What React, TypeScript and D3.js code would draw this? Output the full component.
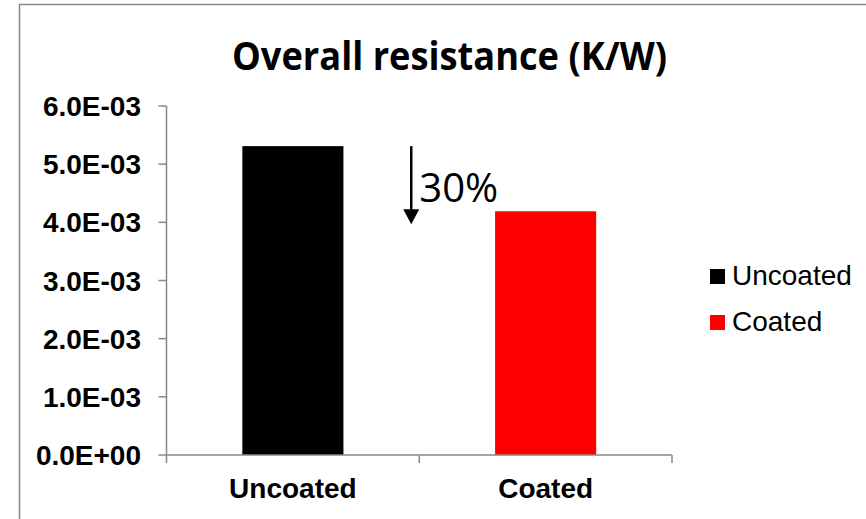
import React from "react";
import * as d3 from "d3";

const categories = ["Uncoated", "Coated"];
const resistance = [5.31e-3, 4.19e-3];
const colors = ["#000000", "#ff0000"];
const yTicks = [0, 1e-3, 2e-3, 3e-3, 4e-3, 5e-3, 6e-3];
const yTickLabels = ["0.0E+00", "1.0E-03", "2.0E-03", "3.0E-03", "4.0E-03", "5.0E-03", "6.0E-03"];
const title = "Overall resistance (K/W)";
const reductionLabel = "30%";

const W = 866;
const H = 519;
const plot = { left: 166.5, right: 672, top: 106, bottom: 455 };
const axisColor = "#888888";

export default function App() {
  const x = d3
    .scaleBand<string>()
    .domain(categories)
    .range([plot.left, plot.right])
    .paddingInner(0.6)
    .paddingOuter(0.3);
  const band = d3.scaleBand<string>().domain(categories).range([plot.left, plot.right]);
  const y = d3.scaleLinear().domain([0, 6e-3]).range([plot.bottom, plot.top]);

  const arrowX = (band("Coated") as number) - 8;
  const arrowTop = y(resistance[0]);
  const arrowTip = y(resistance[1]) + 13;

  return (
    <svg
      width={W}
      height={H}
      style={{ position: "absolute", left: 0, top: 0, display: "block", background: "#fff" }}
    >
      <rect x={19.5} y={4.5} width={W} height={H} fill="#fff" stroke={axisColor} strokeWidth={1.5} />

      <text
        x={449.5}
        y={70}
        textAnchor="middle"
        fontFamily="'Open Sans', sans-serif"
        fontWeight={700}
        fontSize={40}
        textLength={435}
        lengthAdjust="spacingAndGlyphs"
        fill="#000"
      >
        {title}
      </text>

      {/* bars */}
      {categories.map((c, i) => (
        <rect
          key={c}
          x={x(c)}
          y={y(resistance[i])}
          width={x.bandwidth()}
          height={plot.bottom - y(resistance[i])}
          fill={colors[i]}
        />
      ))}

      {/* y axis */}
      <line x1={plot.left} x2={plot.left} y1={plot.top} y2={plot.bottom} stroke={axisColor} strokeWidth={1.5} />
      {yTicks.map((t, i) => (
        <g key={t}>
          <line x1={plot.left - 8} x2={plot.left} y1={y(t)} y2={y(t)} stroke={axisColor} strokeWidth={1.5} />
          <text
            x={141}
            y={y(t)}
            dy="0.36em"
            textAnchor="end"
            fontFamily="'Liberation Sans', Arial, sans-serif"
            fontWeight={700}
            fontSize={28}
            fill="#000"
          >
            {yTickLabels[i]}
          </text>
        </g>
      ))}

      {/* x axis */}
      <line x1={plot.left} x2={plot.right} y1={plot.bottom} y2={plot.bottom} stroke={axisColor} strokeWidth={1.5} />
      {[...categories.map((c) => band(c) as number), plot.right].map((p, i) => (
        <line key={i} x1={p} x2={p} y1={plot.bottom} y2={plot.bottom + 8} stroke={axisColor} strokeWidth={1.5} />
      ))}
      {categories.map((c) => (
        <text
          key={c}
          x={(x(c) as number) + x.bandwidth() / 2}
          y={498}
          textAnchor="middle"
          fontFamily="'Liberation Sans', Arial, sans-serif"
          fontWeight={700}
          fontSize={28}
          fill="#000"
        >
          {c}
        </text>
      ))}

      {/* reduction arrow */}
      <line x1={arrowX} x2={arrowX} y1={arrowTop} y2={arrowTip - 12} stroke="#000" strokeWidth={2.5} />
      <polygon
        points={`${arrowX - 8},${arrowTip - 15} ${arrowX + 8},${arrowTip - 15} ${arrowX},${arrowTip}`}
        fill="#000"
      />
      <text
        x={arrowX + 8}
        y={202}
        fontFamily="'Open Sans', sans-serif"
        fontSize={41}
        textLength={79}
        lengthAdjust="spacingAndGlyphs"
        fill="#000"
      >
        {reductionLabel}
      </text>

      {/* legend */}
      {categories.map((c, i) => (
        <g key={c} transform={`translate(710, ${269 + i * 46})`}>
          <rect x={0} y={0} width={15} height={15} fill={colors[i]} />
          <text
            x={22}
            y={16}
            fontFamily="'Liberation Sans', Arial, sans-serif"
            fontSize={28}
            fill="#000"
          >
            {c}
          </text>
        </g>
      ))}
    </svg>
  );
}
